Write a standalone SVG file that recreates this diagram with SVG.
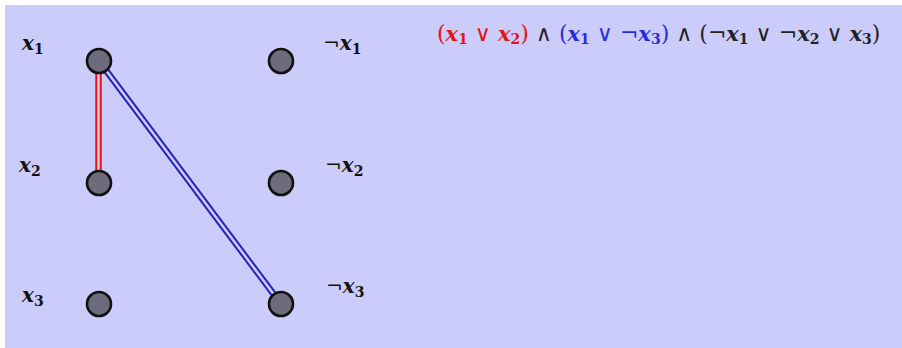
<svg xmlns="http://www.w3.org/2000/svg" width="902" height="348" viewBox="0 0 902 348">
<style>
.bg{fill:#ccccfb}
.node{fill:#6c6c7c;stroke:#111;stroke-width:2.6}
.lbl{font-family:"DejaVu Serif",serif;font-style:italic;font-weight:bold;font-size:20px;fill:#111}
.sub{font-family:"DejaVu Serif",serif;font-style:normal;font-weight:bold;font-size:14px}
.neg{font-family:"DejaVu Serif",serif;font-style:normal;font-weight:normal}
.f{font-family:"DejaVu Serif",serif;font-size:22px;fill:#222}
.fv{font-style:italic;font-weight:bold;font-size:21px}
.fs{font-weight:bold;font-size:14px}
</style>
<rect class="bg" x="5" y="5" width="897" height="343"/>
<g id="connectors">
  <line x1="98.5" y1="61" x2="98.5" y2="183" stroke="#ee1111" stroke-width="6.5"/>
  <line x1="98.5" y1="61" x2="98.5" y2="183" stroke="#ccccfb" stroke-width="2.5"/>
  <line x1="99" y1="61" x2="281" y2="304" stroke="#2222bb" stroke-width="6.5"/>
  <line x1="99" y1="61" x2="281" y2="304" stroke="#ccccfb" stroke-width="2.5"/>
</g>
<g id="n-x1"><circle class="node" cx="99" cy="61" r="12"/><text class="lbl" x="22" y="50">x<tspan class="sub" dy="4">1</tspan></text></g>
<g id="n-nx1"><circle class="node" cx="281" cy="61" r="12"/><text class="lbl" x="323" y="50"><tspan class="neg">¬</tspan>x<tspan class="sub" dy="4">1</tspan></text></g>
<g id="n-x2"><circle class="node" cx="99" cy="183" r="12"/><text class="lbl" x="19" y="172">x<tspan class="sub" dy="4">2</tspan></text></g>
<g id="n-nx2"><circle class="node" cx="281" cy="183" r="12"/><text class="lbl" x="325" y="172"><tspan class="neg">¬</tspan>x<tspan class="sub" dy="4">2</tspan></text></g>
<g id="n-x3"><circle class="node" cx="99" cy="304" r="12"/><text class="lbl" x="22" y="302">x<tspan class="sub" dy="4">3</tspan></text></g>
<g id="n-nx3"><circle class="node" cx="281" cy="304" r="12"/><text class="lbl" x="326" y="293"><tspan class="neg">¬</tspan>x<tspan class="sub" dy="4">3</tspan></text></g>
<g id="formula">
<text class="f" x="437" y="41" xml:space="preserve"><tspan fill="#e01515">(<tspan class="fv">x</tspan><tspan class="fs" dy="3">1</tspan><tspan dy="-3"> ∨ </tspan><tspan class="fv">x</tspan><tspan class="fs" dy="3">2</tspan><tspan dy="-3">)</tspan></tspan> ∧ <tspan fill="#2a2ad8">(<tspan class="fv">x</tspan><tspan class="fs" dy="3">1</tspan><tspan dy="-3"> ∨ ¬</tspan><tspan class="fv">x</tspan><tspan class="fs" dy="3">3</tspan><tspan dy="-3">)</tspan></tspan> ∧ (¬<tspan class="fv">x</tspan><tspan class="fs" dy="3">1</tspan><tspan dy="-3"> ∨ ¬</tspan><tspan class="fv">x</tspan><tspan class="fs" dy="3">2</tspan><tspan dy="-3"> ∨ </tspan><tspan class="fv">x</tspan><tspan class="fs" dy="3">3</tspan><tspan dy="-3">)</tspan></text>
</g>
</svg>
